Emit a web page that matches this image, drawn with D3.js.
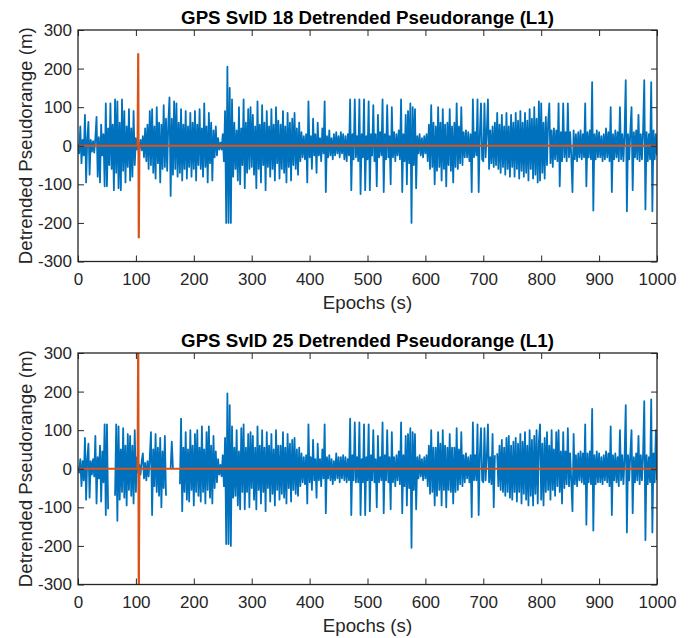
<!DOCTYPE html>
<html>
<head>
<meta charset="utf-8">
<script src="https://cdn.jsdelivr.net/npm/d3@7"></script>
<style>
    body { margin: 0; background: #fff; }
    svg { display: block; font-family: "Liberation Sans", Arial, sans-serif; }
</style>
</head>
<body>
<svg id="chart" width="691" height="638"></svg>
<script>
// one sample every 2 s
const epochs = d3.range(0, 1001, 2);

const sv18Values = [
    5, -20, 50, -45, 15, -25, 80, -95, 18, 62, -75, 15, -15, 12, -18, 20, 75, -80, 22, -95, 55, -25, 30, -105, 110,
    -105, 45, -50, 110, -60, 55, -115, 120, -70, 115, -110, 60, -115, 120, -65, 90, -95, 50, -55, 95, -90, 45, -80, 90, -50,
    20, -10, 8, -8, 15, -12, 25, -30, 45, -40, 55, -60, 90, -50, 95, -70, 50, -85, 100, -45, 60, -95, 55, -60, 105,
    -55, 70, -65, 60, 125, -130, 70, -75, 115, -60, 110, -80, 60, -70, 95, -90, 55, -60, 90, -85, 50, -55, 85, -80, 60,
    -60, 90, -90, 55, -50, 95, -60, 45, -80, 110, -55, 50, -95, 85, -45, 60, -90, 40, -30, 50, -25, 20, -10, 8, -10,
    30, -40, 90, -200, 205, -200, 150, -200, 120, -80, 60, -60, 40, -90, 100, -100, 45, -50, 120, -110, 60, -70, 95, -60, 100,
    -55, 80, -75, 50, -110, 115, -60, 55, -95, 105, -50, 60, -115, 90, -55, 50, -80, 95, -60, 55, -90, 100, -45, 65, -85,
    55, -60, 90, -70, 50, -95, 85, -55, 60, -90, 70, -50, 85, -60, 45, -75, 60, -40, 35, -30, 25, -35, 30, -95, 115,
    -30, 25, -60, 70, -25, 30, -70, 60, -25, 20, -40, 45, -20, 115, -120, 25, -30, 40, -25, 20, -35, 30, -25, 35, -20,
    25, -30, 35, -20, 30, -35, 25, -40, 30, -25, 120, -115, 30, -35, 120, -30, 25, -40, 120, -125, 30, -30, 120, -115, 25,
    -35, 115, -115, 30, -25, 105, -40, 30, -105, 80, -30, 35, -25, 120, -120, 30, -35, 105, -30, 25, -100, 100, -30, 35, -40,
    30, -25, 40, -35, 120, -120, 30, -40, 80, -100, 90, -45, 110, -200, 100, -50, 95, -110, 25, -20, 30, -25, 20, -30, 25,
    -20, 30, -40, 55, -60, 105, -55, 60, -100, 50, -65, 100, -55, 60, -90, 95, -60, 55, -105, 60, -50, 95, -65, 50, -95,
    60, -55, 110, -60, 50, -45, 100, -50, 35, -30, 40, -30, 35, -40, 30, -120, 120, -30, 35, -25, 120, -120, 30, 110, -35,
    -40, 110, -30, 35, 120, -60, 40, -45, 50, -55, 60, -50, 85, -60, 55, -70, 80, -55, 50, -75, 85, -60, 50, -80, 80,
    -55, 60, -80, 85, -60, 65, -85, 90, -65, 60, -80, 85, -70, 65, -90, 95, -60, 70, -85, 100, -75, 70, -95, 115, -90,
    110, -70, 60, -85, 75, -50, 60, 110, -45, 40, -55, 45, -35, 40, -40, 110, -105, 35, -40, 110, -30, 35, -40, 110, -30,
    35, -30, -120, 40, -35, 30, -40, 35, -30, 40, -35, 30, -30, 110, -105, 35, -30, 40, -35, 165, -168, 30, -35, 40, -30,
    35, -30, 25, -40, 30, -35, 45, -30, 35, -40, 100, -120, 30, -35, 40, -30, 35, -40, 100, -35, 30, -40, 35, 170, -170,
    30, -35, 40, 100, -115, 35, -30, 40, -35, 80, -40, 30, -35, 40, 170, -165, 35, -40, 30, -35, 165, -170, 40, -35, 30,
    -25
];

// null = no measurement (gaps in the trace)
const sv25Values = [
    5, -10, 25, -45, 20, -30, 80, -80, 25, 65, -75, 20, -15, 25, -20, 85, -90, 30, -25, 60, -85, 45, -35, 115, -120,
    115, -105, null, null, null, null, null, -70, 115, -135, 110, -80, 50, -60, 105, -75, 60, -95, 90, -55, 85, -70, 60, -90, 100,
    -60, 30, -10, 10, -15, 20, 40, -25, 15, -30, 20, -20, 30, 95, -120, 50, -45, 90, -60, 55, -70, 80, -100, 45, -50,
    85, -70, null, null, null, 0, 70, 0, null, null, null, null, null, -40, 130, -110, 55, -60, 95, -80, 50, -85, 100, -55, 60,
    -95, 90, -60, 100, -70, 55, -85, 110, -60, 50, -90, 95, -55, 110, -75, 60, -90, 85, -50, 45, -35, 25, -15, 10, -20,
    35, -45, 80, -195, 195, -195, 165, -200, 110, -75, 55, -70, 100, -95, 45, -105, 105, -60, 115, -105, 55, -60, 90, -100, 95,
    -50, 85, -80, 55, -105, 110, -55, 60, -90, 100, -60, 55, -110, 95, -50, 60, -85, 90, -65, 50, -95, 100, -55, 60, -80,
    60, -65, 95, -75, 55, -90, 90, -50, 65, -85, 75, -55, 80, -65, 50, -70, 55, -45, 40, -35, 30, -40, 35, -90, 115,
    -35, 30, -55, 75, -30, 25, -75, 65, -30, 25, -45, 50, -25, 115, -115, 30, -25, 35, -30, 25, -40, 20, -30, 40, -25,
    30, -35, 30, -25, 35, -30, 30, -35, 25, -30, 130, -120, 35, -30, 120, -35, 30, -35, 120, -120, 25, -35, 115, -120, 30,
    -30, 115, -110, 35, -30, 100, -35, 25, -100, 85, -35, 30, -30, 120, -115, 35, -30, 100, -35, 30, -105, 95, -35, 30, -45,
    35, -30, 45, -40, 120, -115, 35, -45, 85, -95, 90, -50, 105, -205, 95, -55, 90, -105, 30, -25, 35, -20, 25, -30, 30,
    -25, 35, -45, 60, -65, 100, -60, 55, -95, 55, -70, 95, -55, 65, -95, 100, -55, 60, -100, 55, -55, 90, -60, 55, -90,
    55, -60, 105, -55, 50, -40, 95, -45, 35, -35, 40, -25, 30, -35, 35, -125, 120, -30, 35, -30, 115, -120, 35, 105, -30,
    -35, 105, -30, 30, 115, -35, 30, -40, 90, -100, 35, null, 40, -45, 60, -55, 75, -60, 55, -70, 80, -60, 85, -75, 60,
    -80, 70, -60, 80, -85, 65, -60, 90, -90, 70, -65, 95, -80, 60, -95, 100, -70, 75, -95, 85, -65, 100, -90, 70, 115,
    -80, 65, -95, 80, -60, 95, -55, 60, -80, 100, -55, 50, -70, 95, -45, 100, -60, 45, -90, 95, -50, 45, -40, 105, -45,
    40, -35, -110, 90, -40, 35, -45, 40, -30, 45, -35, 40, -40, 115, -145, 40, -35, 45, -40, 155, -160, 35, -40, 45, -35,
    40, -35, 30, -40, 35, -30, 45, -35, 40, -45, 110, -120, 35, -30, 40, -35, 30, -45, 100, -30, 35, -40, 30, 165, -165,
    35, -30, 40, 100, -115, 30, -35, 40, -30, 85, -40, 35, -30, 40, 175, -185, 35, -40, 30, -35, 180, -165, 40, -35, 100,
    -30
];

// second (orange) trace: flat except the jump near epoch 104
const sv18RefEpochs = [0, 103, 104, 105, 106, 1000];
const sv18RefValues = [0, 0, 240, -240, 0, 0];
const sv25RefEpochs = [0, 103, 104, 105, 106, 1000];
const sv25RefValues = [0, 0, 330, -330, 0, 0];

const xTicks = [0, 100, 200, 300, 400, 500, 600, 700, 800, 900, 1000];
const yTicks = [-300, -200, -100, 0, 100, 200, 300];
const titles = ["GPS SvID 18 Detrended Pseudorange (L1)", "GPS SvID 25 Detrended Pseudorange (L1)"];

let chart = d3.select("#chart"),
    margin = {left: 78, right: 34},
    width = +chart.attr("width") - margin.left - margin.right,
    height = 231.5,
    panelTops = [30, 353];

let x = d3.scaleLinear().domain([0, 1000]).range([0, width]);
let y = d3.scaleLinear().domain([-300, 300]).range([height, 0]);

let line = d3.line()
    .defined(d => d.v !== null)
    .x(d => x(d.e))
    .y(d => y(d.v));

function drawPanel(idx, values, refEpochs, refValues) {
    let g = chart.append("g")
        .attr("transform", "translate(" + margin.left + "," + panelTops[idx] + ")");

    g.append("clipPath")
        .attr("id", "clip" + idx)
        .append("rect")
        .attr("width", width)
        .attr("height", height);

    let pts = epochs.map((e, i) => ({e: e, v: values[i]}));
    let ref = refEpochs.map((e, i) => ({e: e, v: refValues[i]}));

    g.append("path")
        .datum(pts)
        .attr("clip-path", "url(#clip" + idx + ")")
        .attr("fill", "none")
        .attr("stroke", "#0072BD")
        .attr("stroke-width", 1.8)
        .attr("stroke-linejoin", "round")
        .attr("d", line);

    g.append("path")
        .datum(ref)
        .attr("clip-path", "url(#clip" + idx + ")")
        .attr("fill", "none")
        .attr("stroke", "#D95319")
        .attr("stroke-width", 2.2)
        .attr("d", line);

    // axes, ticks pointing inward like matlab
    let axes = [
        g.append("g").attr("transform", "translate(0," + height + ")")
            .call(d3.axisBottom(x).tickValues(xTicks).tickSizeInner(-6).tickSizeOuter(0).tickPadding(11).tickFormat(d => String(d))),
        g.append("g")
            .call(d3.axisTop(x).tickValues(xTicks).tickSizeInner(-6).tickSizeOuter(0).tickFormat("")),
        g.append("g")
            .call(d3.axisLeft(y).tickValues(yTicks).tickSizeInner(-6).tickSizeOuter(0).tickPadding(6).tickFormat(d => String(d))),
        g.append("g").attr("transform", "translate(" + width + ",0)")
            .call(d3.axisRight(y).tickValues(yTicks).tickSizeInner(-6).tickSizeOuter(0).tickFormat(""))
    ];
    axes.forEach(a => {
        a.attr("font-family", null).attr("font-size", 17);
        a.select(".domain").remove();
        a.selectAll("line").attr("stroke", "#262626");
        a.selectAll("text").attr("fill", "#262626");
    });

    g.append("rect")
        .attr("width", width)
        .attr("height", height)
        .attr("fill", "none")
        .attr("stroke", "#262626")
        .attr("stroke-width", 1.3);

    g.append("text")
        .attr("x", width / 2)
        .attr("y", -6.5)
        .attr("text-anchor", "middle")
        .attr("font-size", 18.7)
        .attr("font-weight", "bold")
        .attr("fill", "#000")
        .text(titles[idx]);

    g.append("text")
        .attr("x", width / 2)
        .attr("y", height + 47)
        .attr("text-anchor", "middle")
        .attr("font-size", 18.7)
        .attr("fill", "#262626")
        .text("Epochs (s)");

    g.append("text")
        .attr("transform", "translate(" + (32 - margin.left) + "," + (height / 2) + ") rotate(-90)")
        .attr("text-anchor", "middle")
        .attr("font-size", 18.7)
        .attr("fill", "#262626")
        .text("Detrended Pseudorange (m)");
}

drawPanel(0, sv18Values, sv18RefEpochs, sv18RefValues);
drawPanel(1, sv25Values, sv25RefEpochs, sv25RefValues);
</script>
</body>
</html>
